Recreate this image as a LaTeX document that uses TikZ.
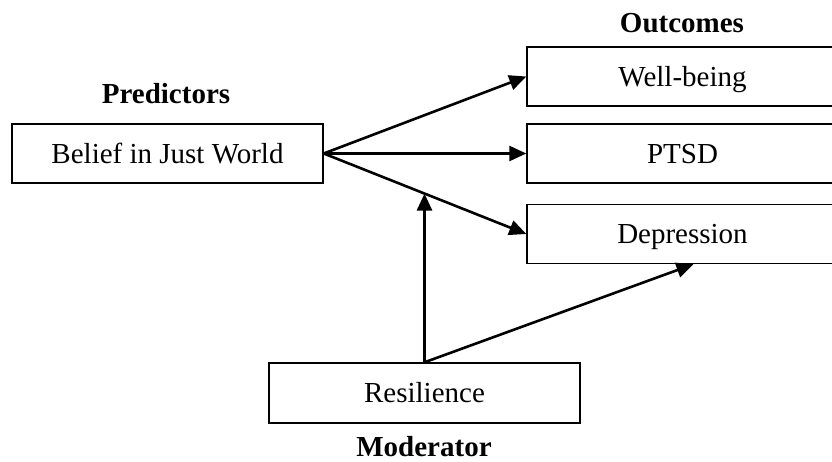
\documentclass[tikz,border=0pt]{standalone}
\usepackage{fontspec}
\setmainfont{Liberation Serif}
\usetikzlibrary{arrows.meta,calc,intersections}
\begin{document}
\begin{tikzpicture}[x=1pt,y=-1pt,
  every node/.style={font=\fontsize{29}{34}\selectfont},
  box/.style={draw,line width=1.4pt,minimum width=311pt,minimum height=59pt,inner sep=0pt,text height=19pt,text depth=0pt},
  heading/.style={font=\fontsize{29}{34}\selectfont\bfseries,anchor=base,inner sep=0pt},
  connector/.style={line width=2.6pt,-{Triangle[length=17pt,width=15pt]}}]
\useasboundingbox (0,0) rectangle (832,461);
\node[box] (b) at (167.5,153.5) {Belief in Just World};
\node[box] (w) at (682.5,76.5) {Well-being};
\node[box] (p) at (682.5,153.5) {PTSD};
\node[box] (d) at (682.5,234) {Depression};
\node[box,minimum height=60pt] (r) at (424.5,393) {Resilience};
\node[heading] (hp) at (166,103) {Predictors};
\node[heading] (ho) at (682,32) {Outcomes};
\node[heading] (hm) at (424,456) {Moderator};
\draw[connector] (b.east) -- (w.west);
\draw[connector] (b.east) -- (p.west);
\draw[connector,name path=bd] (b.east) -- (d.west);
\path[name path=vert] (r.north) -- ++(0,-250);
\path[name intersections={of=bd and vert,by=m}];
\draw[connector] (r.north) -- (m);
\coordinate (ds) at ($(d.south west)!0.535!(d.south east)$);
\draw[connector] (r.north) -- (ds);
\end{tikzpicture}
\end{document}
